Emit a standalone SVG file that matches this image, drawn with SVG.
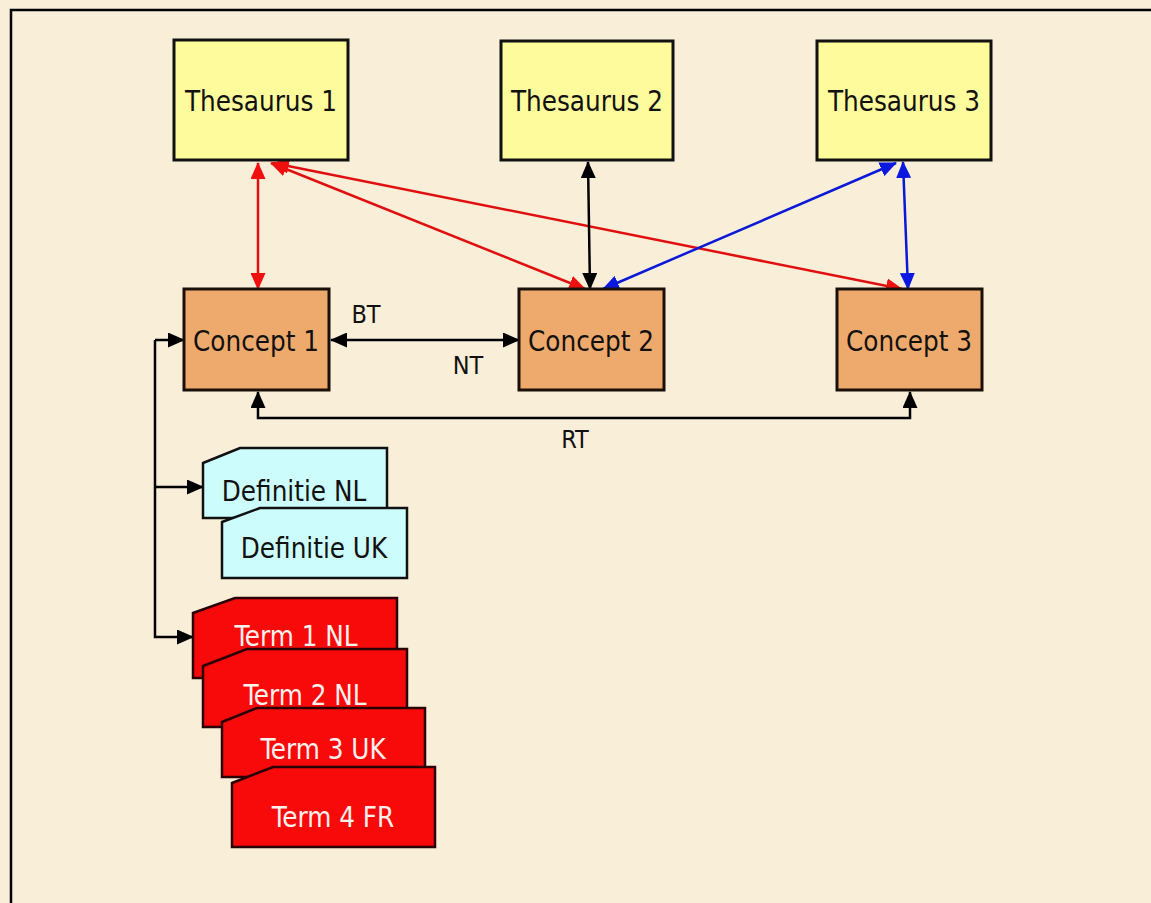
<svg xmlns="http://www.w3.org/2000/svg" width="1151" height="903" viewBox="0 0 1151 903">
<defs>
<style>
.bg{fill:#f9eed8}
.frame{fill:none;stroke:#000;stroke-width:2.5}
.th{fill:#fdfb9c;stroke:#111;stroke-width:3}
.co{fill:#eeaa6c;stroke:#1a1008;stroke-width:3}
.de{fill:#ccfcfc;stroke:#111;stroke-width:2.5}
.te{fill:#f80a0a;stroke:#2a0000;stroke-width:2.5}
text{font-family:"DejaVu Sans Condensed","DejaVu Sans",sans-serif;font-size:27.5px;text-anchor:middle}
.dk{fill:#111}
.lt{fill:#fff2ee}
text.lbl{font-size:25px}
.cb{fill:none;stroke:#000;stroke-width:2.5}
.cr{fill:none;stroke:#e01010;stroke-width:2.5}
.cu{fill:none;stroke:#0a18d8;stroke-width:2.5}
</style>
<marker id="ab" markerUnits="userSpaceOnUse" markerWidth="17" markerHeight="15" refX="16" refY="7.5" orient="auto-start-reverse" viewBox="0 0 17 15"><path d="M0,0 L17,7.5 L0,15 Z" fill="#000"/></marker>
<marker id="ar" markerUnits="userSpaceOnUse" markerWidth="17" markerHeight="15" refX="16" refY="7.5" orient="auto-start-reverse" viewBox="0 0 17 15"><path d="M0,0 L17,7.5 L0,15 Z" fill="#f01010"/></marker>
<marker id="au" markerUnits="userSpaceOnUse" markerWidth="17" markerHeight="15" refX="16" refY="7.5" orient="auto-start-reverse" viewBox="0 0 17 15"><path d="M0,0 L17,7.5 L0,15 Z" fill="#0a18e0"/></marker>
</defs>
<rect class="bg" x="0" y="0" width="1151" height="903"/>
<rect class="frame" x="11" y="10" width="1150" height="900"/>

<g id="connectors">
<line class="cr" x1="258" y1="163" x2="258" y2="289" marker-start="url(#ar)" marker-end="url(#ar)"/>
<line class="cr" x1="271" y1="163" x2="585" y2="289" marker-start="url(#ar)" marker-end="url(#ar)"/>
<line class="cr" x1="273" y1="163" x2="902" y2="289" marker-start="url(#ar)" marker-end="url(#ar)"/>
<line class="cb" x1="588" y1="162" x2="590" y2="289" marker-start="url(#ab)" marker-end="url(#ab)"/>
<line class="cu" x1="603" y1="289" x2="896" y2="163" marker-start="url(#au)" marker-end="url(#au)"/>
<line class="cu" x1="903" y1="162" x2="908" y2="289" marker-start="url(#au)" marker-end="url(#au)"/>
<line class="cb" x1="331" y1="340" x2="519" y2="340" marker-start="url(#ab)" marker-end="url(#ab)"/>
<path class="cb" d="M258,392 V418 H910 V392" marker-start="url(#ab)" marker-end="url(#ab)"/>
<path class="cb" d="M155,340 H184" marker-end="url(#ab)"/>
<path class="cb" d="M155,487 H203" marker-end="url(#ab)"/>
<path class="cb" d="M155,340 V637 H193" marker-end="url(#ab)"/>
<text class="dk lbl" x="366" y="323">BT</text>
<text class="dk lbl" x="468" y="374">NT</text>
<text class="dk lbl" x="575" y="448">RT</text>
</g>

<g id="thesaurus1"><rect class="th" x="174" y="40" width="174" height="120"/><text class="dk" x="261" y="111">Thesaurus 1</text></g>
<g id="thesaurus2"><rect class="th" x="501" y="41" width="172" height="119"/><text class="dk" x="587" y="111">Thesaurus 2</text></g>
<g id="thesaurus3"><rect class="th" x="817" y="41" width="174" height="119"/><text class="dk" x="904" y="111">Thesaurus 3</text></g>

<g id="concept1"><rect class="co" x="184" y="289" width="145" height="101"/><text class="dk" x="256" y="351">Concept 1</text></g>
<g id="concept2"><rect class="co" x="519" y="289" width="145" height="101"/><text class="dk" x="591" y="351">Concept 2</text></g>
<g id="concept3"><rect class="co" x="837" y="289" width="145" height="101"/><text class="dk" x="909" y="351">Concept 3</text></g>

<g id="definitie-nl"><path class="de" d="M203,463 L240,448 H387 V518 H203 Z"/><text class="dk" x="294" y="501">Definitie NL</text></g>
<g id="definitie-uk"><path class="de" d="M222,522 L260,508 H407 V578 H222 Z"/><text class="dk" x="314" y="558">Definitie UK</text></g>

<g id="term1"><path class="te" d="M193,613 L235,598 H397 V678 H193 Z"/><text class="lt" x="296" y="646">Term 1 NL</text></g>
<g id="term2"><path class="te" d="M203,666 L247,649 H407 V727 H203 Z"/><text class="lt" x="305" y="705">Term 2 NL</text></g>
<g id="term3"><path class="te" d="M222,722 L257,708 H425 V777 H222 Z"/><text class="lt" x="323" y="759">Term 3 UK</text></g>
<g id="term4"><path class="te" d="M232,783 L273,767 H435 V847 H232 Z"/><text class="lt" x="333" y="827">Term 4 FR</text></g>
</svg>
